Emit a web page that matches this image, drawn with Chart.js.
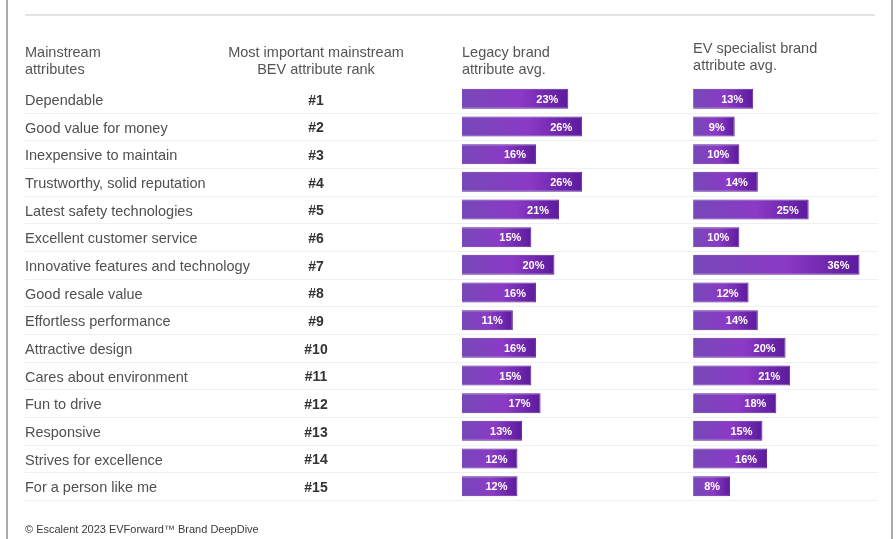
<!DOCTYPE html>
<html>
<head>
<meta charset="utf-8">
<script src="https://cdn.jsdelivr.net/npm/chart.js@4.4.0/dist/chart.umd.min.js"></script>
<style>
  html, body { margin: 0; padding: 0; background: #fff; }
  #wrap { position: relative; width: 896px; height: 539px; overflow: hidden; }
  .edge { position: absolute; top: 0; width: 2px; height: 539px; background: #ababab; }
  canvas { position: absolute; left: 0; top: 0; }
</style>
</head>
<body>
<div id="wrap">
  <div class="edge" style="left:6px"></div>
  <div class="edge" style="left:891px"></div>
  <canvas id="brandChart" width="896" height="539"></canvas>
</div>
<script>
const attributes = [
  'Dependable',
  'Good value for money',
  'Inexpensive to maintain',
  'Trustworthy, solid reputation',
  'Latest safety technologies',
  'Excellent customer service',
  'Innovative features and technology',
  'Good resale value',
  'Effortless performance',
  'Attractive design',
  'Cares about environment',
  'Fun to drive',
  'Responsive',
  'Strives for excellence',
  'For a person like me'
];
const ranks = ['#1', '#2', '#3', '#4', '#5', '#6', '#7', '#8', '#9', '#10', '#11', '#12', '#13', '#14', '#15'];
const legacyAvg = [23, 26, 16, 26, 21, 15, 20, 16, 11, 16, 15, 17, 13, 12, 12];
const evAvg = [13, 9, 10, 14, 25, 10, 36, 12, 14, 20, 21, 18, 15, 16, 8];

const attrHeader = ['Mainstream', 'attributes'];
const rankHeader = ['Most important mainstream', 'BEV attribute rank'];
const legacyHeader = ['Legacy brand', 'attribute avg.'];
const evHeader = ['EV specialist brand', 'attribute avg.'];
const footnote = '\u00A9 Escalent 2023 EVForward\u2122 Brand DeepDive';

const FONT = "'Liberation Sans', Arial, sans-serif";
Chart.defaults.font.family = FONT;

// purple bar, lighter on the left, darker toward the end
const barFill = (c) => {
  const solid = '#7a33bb';
  if (c.type !== 'data') return solid;
  const xs = c.chart.scales[c.dataset.xAxisID];
  if (!xs) return solid;
  const x0 = xs.getPixelForValue(0);
  const x1 = xs.getPixelForValue(c.raw);
  if (!Number.isFinite(x0) || !Number.isFinite(x1) || x1 === x0) return solid;
  const g = c.chart.ctx.createLinearGradient(x0, 0, x1, 0);
  g.addColorStop(0, '#7748b8');
  g.addColorStop(0.55, '#8b3ac6');
  g.addColorStop(1, '#5c1a9c');
  return g;
};

const tableDecor = {
  id: 'tableDecor',
  beforeDatasetsDraw(chart) {
    const { ctx, scales: { y } } = chart;
    const band = y.getPixelForValue(1) - y.getPixelForValue(0);
    ctx.save();
    // faint row separators
    ctx.strokeStyle = '#f0f0f0';
    ctx.lineWidth = 1;
    attributes.forEach((_, i) => {
      const yy = Math.round(y.getPixelForValue(i) + band / 2) + 0.5;
      ctx.beginPath();
      ctx.moveTo(25, yy);
      ctx.lineTo(878, yy);
      ctx.stroke();
    });
    // rule along the top
    ctx.strokeStyle = '#e4e4e4';
    ctx.lineWidth = 2;
    ctx.beginPath();
    ctx.moveTo(25, 15);
    ctx.lineTo(875, 15);
    ctx.stroke();

    // rank column
    ctx.fillStyle = '#333';
    ctx.font = 'bold 14px ' + FONT;
    ctx.textAlign = 'center';
    ctx.textBaseline = 'middle';
    ranks.forEach((r, i) => ctx.fillText(r, 316, y.getPixelForValue(i) + 2));
    ctx.restore();
  },
  afterDatasetsDraw(chart) {
    const { ctx } = chart;
    ctx.save();
    ctx.fillStyle = '#fff';
    ctx.font = 'bold 11px ' + FONT;
    ctx.textAlign = 'right';
    ctx.textBaseline = 'middle';
    chart.data.datasets.forEach((ds, di) => {
      chart.getDatasetMeta(di).data.forEach((bar, i) => {
        ctx.fillText(ds.data[i] + '%', bar.x - 10, bar.y + 1);
      });
    });
    ctx.restore();
  },
  afterDraw(chart) {
    const { ctx, scales: { y, x1, x2 } } = chart;
    ctx.save();
    ctx.fillStyle = '#555';
    ctx.font = '14.5px ' + FONT;
    ctx.textBaseline = 'middle';
    ctx.textAlign = 'left';
    attrHeader.forEach((t, i) => ctx.fillText(t, y.left, 53 + i * 17));
    legacyHeader.forEach((t, i) => ctx.fillText(t, x1.left, 53 + i * 17));
    evHeader.forEach((t, i) => ctx.fillText(t, x2.left, 49 + i * 17));
    ctx.textAlign = 'center';
    rankHeader.forEach((t, i) => ctx.fillText(t, 316, 53 + i * 17));

    ctx.textAlign = 'left';
    ctx.fillStyle = '#3a3a3a';
    ctx.font = '11px ' + FONT;
    ctx.fillText(footnote, y.left, 530);
    ctx.restore();
  }
};

const barStyle = {
  grouped: false,
  categoryPercentage: 1,
  barPercentage: 0.72,
  backgroundColor: barFill,
  borderColor: '#5a2296',
  borderWidth: 1
};

new Chart(document.getElementById('brandChart'), {
  type: 'bar',
  data: {
    labels: attributes,
    datasets: [
      { label: 'Legacy brand attribute avg.', data: legacyAvg, xAxisID: 'x1', yAxisID: 'y', ...barStyle },
      { label: 'EV specialist brand attribute avg.', data: evAvg, xAxisID: 'x2', yAxisID: 'y', ...barStyle }
    ]
  },
  options: {
    responsive: false,
    animation: false,
    indexAxis: 'y',
    layout: { padding: { top: 85, bottom: 39, left: 25, right: 18 } },
    scales: {
      y: {
        position: 'left',
        grid: { display: false },
        border: { display: false },
        ticks: {
          crossAlign: 'far',
          padding: 0,
          labelOffset: 2,
          color: '#505050',
          font: { size: 14.5 }
        },
        afterFit(scale) { scale.width = 437; }
      },
      x1: {
        type: 'linear',
        position: 'bottom',
        stack: 'cols',
        stackWeight: 50,
        min: 0,
        max: 50,
        display: false
      },
      x2: {
        type: 'linear',
        position: 'bottom',
        stack: 'cols',
        stackWeight: 40,
        min: 0,
        max: 40,
        display: false
      }
    },
    plugins: {
      colors: { enabled: false },
      legend: { display: false },
      tooltip: { enabled: false }
    }
  },
  plugins: [tableDecor]
});
</script>
</body>
</html>
